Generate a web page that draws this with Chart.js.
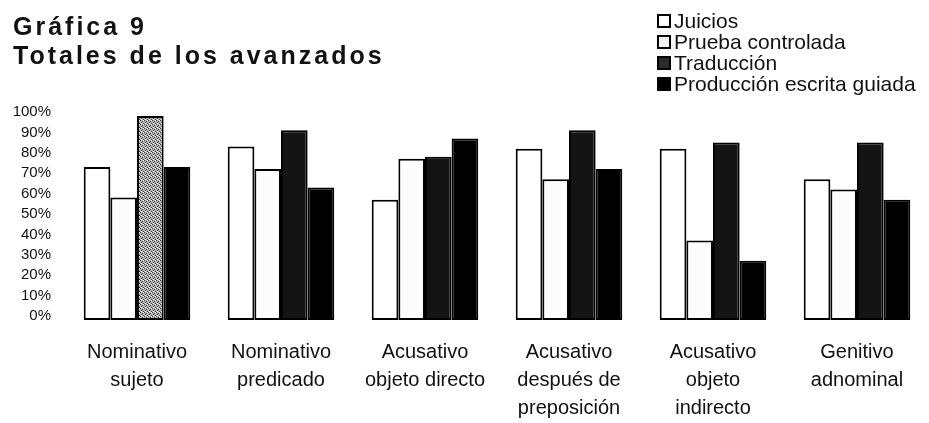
<!DOCTYPE html>
<html>
<head>
<meta charset="utf-8">
<script src="https://cdn.jsdelivr.net/npm/chart.js@4/dist/chart.umd.min.js"></script>
<style>
  html, body { margin: 0; padding: 0; background: #fff; }
  #wrap { width: 929px; height: 423px; position: relative; }
</style>
</head>
<body>
<div id="wrap"><canvas id="grafica9"></canvas></div>
<script>
// categorias del eje x (varias lineas)
const categories = [
  ['Nominativo', 'sujeto'],
  ['Nominativo', 'predicado'],
  ['Acusativo', 'objeto directo'],
  ['Acusativo', 'después de', 'preposición'],
  ['Acusativo', 'objeto', 'indirecto'],
  ['Genitivo', 'adnominal']
];
const seriesNames = ['Juicios', 'Prueba controlada', 'Traducción', 'Producción escrita guiada'];
const juicios    = [75, 85, 59, 84, 84, 69];
const prueba     = [60, 74, 79, 69, 39, 64];
const traduccion = [100, 93, 80, 93, 87, 87];
const produccion = [75, 65, 89, 74, 29, 59];
const yTicks = [0, 10, 20, 30, 40, 50, 60, 70, 80, 90, 100];
const titleLines = ['Gráfica 9', 'Totales de los avanzados'];

// trama gris punteada (primera barra de Traducción)
function stipple() {
  const c = document.createElement('canvas');
  c.width = 4; c.height = 4;
  const g = c.getContext('2d');
  g.fillStyle = '#b4b4b4';
  g.fillRect(0, 0, 4, 4);
  g.fillStyle = '#3a3a3a';
  g.fillRect(0, 0, 1, 1);
  g.fillRect(2, 1, 1, 1);
  g.fillRect(1, 2, 1, 1);
  g.fillRect(3, 3, 1, 1);
  g.fillStyle = '#ffffff';
  g.fillRect(3, 0, 1, 1);
  g.fillRect(1, 3, 1, 1);
  return g.createPattern(c, 'repeat');
}
const trama = stipple();
const tradColors = traduccion.map((v, i) => i === 0 ? trama : '#141414');

// titulo + leyenda dibujados a mano
const decoPlugin = {
  id: 'deco',
  afterDraw(chart) {
    const ctx = chart.ctx;
    ctx.save();
    ctx.fillStyle = '#111';
    ctx.font = 'bold 25px "Liberation Sans", Arial, sans-serif';
    ctx.textBaseline = 'alphabetic';
    ctx.textAlign = 'left';
    if ('letterSpacing' in ctx) ctx.letterSpacing = '3px';
    ctx.fillText(titleLines[0], 13, 35);
    ctx.fillText(titleLines[1], 13, 64);
    if ('letterSpacing' in ctx) ctx.letterSpacing = '0px';

    const legendFill = ['#ffffff', '#f4f4f4', '#2a2a2a', '#000000'];
    ctx.font = '21px "Liberation Sans", Arial, sans-serif';
    ctx.textBaseline = 'middle';
    chart.data.datasets.forEach((ds, i) => {
      const y = 21 + i * 21;
      ctx.fillStyle = legendFill[i];
      ctx.fillRect(658, y - 6, 12, 12);
      ctx.lineWidth = 2;
      ctx.strokeStyle = '#000';
      ctx.strokeRect(658, y - 6, 12, 12);
      ctx.fillStyle = '#111';
      ctx.fillText(ds.label, 674, y + 1);
    });
    ctx.restore();
  }
};

new Chart(document.getElementById('grafica9'), {
  type: 'bar',
  data: {
    labels: categories,
    datasets: [
      { label: seriesNames[0], data: juicios, backgroundColor: '#ffffff' },
      { label: seriesNames[1], data: prueba, backgroundColor: '#fcfcfc' },
      { label: seriesNames[2], data: traduccion, backgroundColor: tradColors },
      { label: seriesNames[3], data: produccion, backgroundColor: '#000000' }
    ]
  },
  options: {
    responsive: true,
    maintainAspectRatio: false,
    animation: false,
    layout: { padding: { top: 116, left: 12, right: 0, bottom: 0 } },
    datasets: {
      bar: {
        borderColor: '#000',
        borderWidth: 2,
        borderSkipped: false,
        categoryPercentage: 0.74,
        barPercentage: 1.0
      }
    },
    plugins: {
      legend: { display: false },
      title: { display: false },
      tooltip: { enabled: false }
    },
    scales: {
      x: {
        afterFit(axis) { axis.height = 103; },
        grid: { display: false, drawTicks: false },
        border: { display: false },
        ticks: {
          color: '#111',
          font: { family: '"Liberation Sans", Arial, sans-serif', size: 20, lineHeight: 1.4 },
          padding: 18,
          maxRotation: 0,
          autoSkip: false
        }
      },
      y: {
        min: 0,
        max: 100,
        afterBuildTicks(axis) { axis.ticks = yTicks.map(v => ({ value: v })); },
        afterFit(axis) { axis.width = 53; },
        grid: { display: false, drawTicks: false },
        border: { display: false },
        ticks: {
          color: '#111',
          font: { family: '"Liberation Sans", Arial, sans-serif', size: 15 },
          padding: 14,
          labelOffset: -4,
          autoSkip: false,
          callback: v => v + '%'
        }
      }
    }
  },
  plugins: [decoPlugin]
});
</script>
</body>
</html>
